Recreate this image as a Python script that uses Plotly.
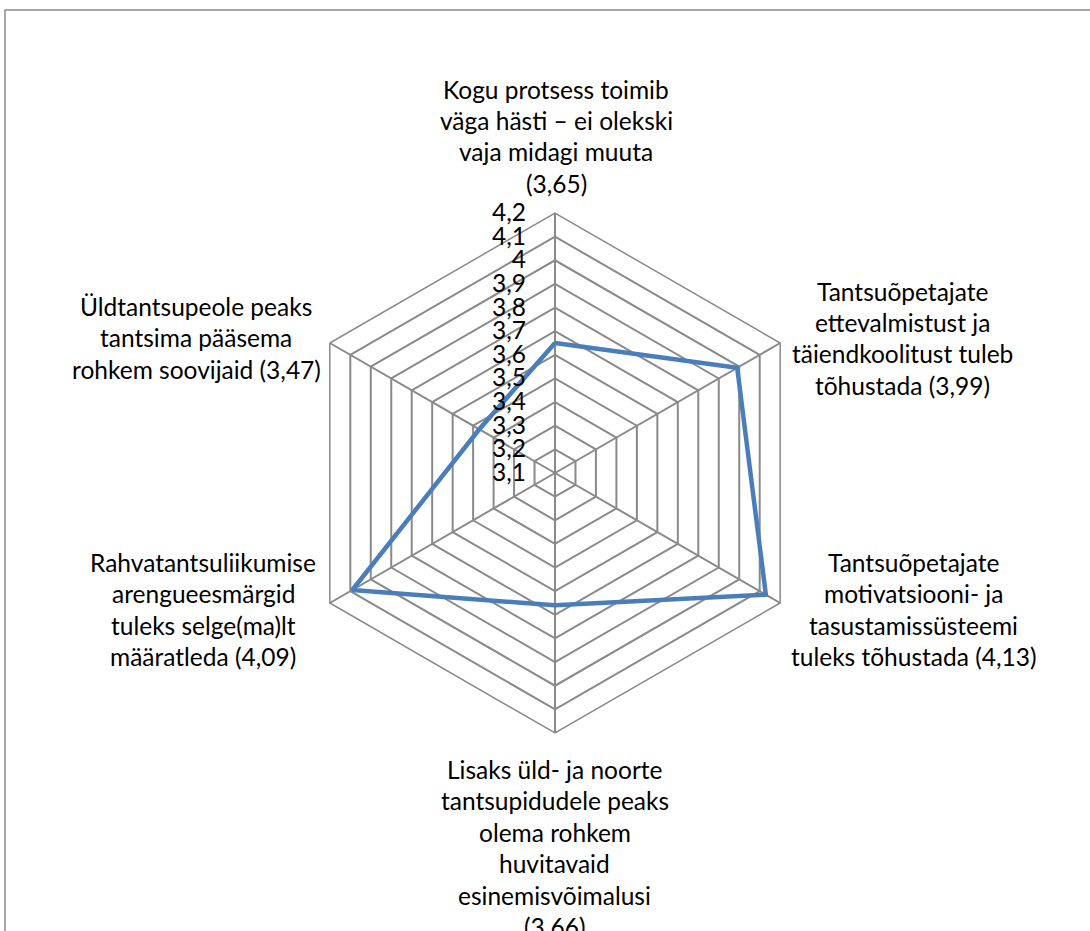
import plotly.graph_objects as go

# ---- data ----
categories = [
    "Kogu protsess toimib<br>väga hästi – ei olekski<br>vaja midagi muuta<br>(3,65)",
    "Tantsuõpetajate<br>ettevalmistust ja<br>täiendkoolitust tuleb<br>tõhustada (3,99)",
    "Tantsuõpetajate<br>motivatsiooni- ja<br>tasustamissüsteemi<br>tuleks tõhustada (4,13)",
    "Lisaks üld- ja noorte<br>tantsupidudele peaks<br>olema rohkem<br>huvitavaid<br>esinemisvõimalusi<br>(3.66)",
    "Rahvatantsuliikumise<br>arengueesmärgid<br>tuleks selge(ma)lt<br>määratleda (4,09)",
    "Üldtantsupeole peaks<br>tantsima pääsema<br>rohkem soovijaid (3,47)",
]
values = [3.65, 3.99, 4.13, 3.66, 4.09, 3.47]
tick_vals = [3.1, 3.2, 3.3, 3.4, 3.5, 3.6, 3.7, 3.8, 3.9, 4.0, 4.1, 4.2]
tick_text = ["3,1", "3,2", "3,3", "3,4", "3,5", "3,6", "3,7", "3,8", "3,9", "4", "4,1", "4,2"]

# ---- layout settings ----
W, H = 1090, 931
FONT = "Lato, sans-serif"
FS = 24.5
GRID = "#8a8a8a"
cx, cy, R = 555, 473, 260
# label placement (pixel center x, first line center y)
label_pos = [(556, 89), (902, 291), (913, 562), (555, 769), (203, 562), (196, 306)]
LINE_STEP = 31.5

fig = go.Figure()
fig.add_trace(go.Scatterpolar(
    r=values + values[:1],
    theta=categories + categories[:1],
    mode="lines",
    line=dict(color="#4a7ebb", width=4.5),
    showlegend=False,
    hoverinfo="skip",
))

fig.update_layout(
    width=W, height=H,
    margin=dict(l=0, r=0, t=0, b=0),
    paper_bgcolor="white",
    font=dict(family=FONT, size=FS, color="black"),
    polar=dict(
        domain=dict(x=[(cx - R) / W, (cx + R) / W], y=[(H - cy - R) / H, (H - cy + R) / H]),
        bgcolor="white",
        gridshape="linear",
        angularaxis=dict(
            direction="clockwise", rotation=90,
            showticklabels=False, ticks="",
            showline=True, linecolor=GRID, linewidth=1.5,
            showgrid=True, gridcolor=GRID, gridwidth=1.5,
        ),
        radialaxis=dict(
            range=[3.1, 4.2], tickvals=tick_vals, ticktext=tick_text,
            angle=90, tickangle=90, side="counterclockwise",
            showline=False, ticks="outside", ticklen=20, tickcolor="rgba(0,0,0,0)",
            showgrid=True, gridcolor=GRID, gridwidth=1.5,
            tickfont=dict(family=FONT, size=FS, color="black"),
        ),
    ),
)

# category labels, one annotation per line
for text, (lx, ly) in zip(categories, label_pos):
    for i, line in enumerate(text.split("<br>")):
        y = ly + i * LINE_STEP
        fig.add_annotation(
            x=lx / W, y=1 - y / H, xref="paper", yref="paper",
            text=line, showarrow=False, xanchor="center", yanchor="middle",
            font=dict(family=FONT, size=FS, color="black"),
        )

# outer chart border
fig.add_shape(type="rect", xref="paper", yref="paper",
              x0=5 / W, y0=-0.05, x1=1.05, y1=1 - 10 / H,
              line=dict(color="#8a8a8a", width=1.5), fillcolor="rgba(0,0,0,0)")

fig.write_html("out.html", config={"displayModeBar": False},
               post_script="document.body.style.margin='0';")
